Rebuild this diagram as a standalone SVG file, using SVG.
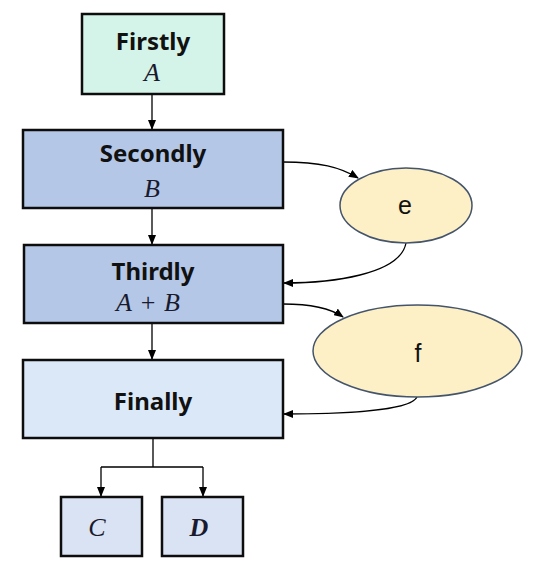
<svg xmlns="http://www.w3.org/2000/svg" width="540" height="573" viewBox="0 0 540 573">
<defs>
<marker id="ah" markerWidth="10" markerHeight="8" refX="9" refY="4" orient="auto" markerUnits="userSpaceOnUse">
<path d="M0,0 L10,4 L0,8 Z" fill="#000"/>
</marker>
<style>
.box{stroke:#0d0d0d;stroke-width:2.5}
.ell{fill:#fdefc6;stroke:#44546a;stroke-width:1.5}
.lbl{font-family:"Noto Sans","Open Sans",sans-serif;font-weight:bold;font-size:24px;fill:#111;text-anchor:middle}
.math{font-family:"Liberation Serif","DejaVu Serif",serif;font-style:italic;font-size:26px;fill:#1a1a2e;text-anchor:middle}
.up{font-style:normal}
.el{font-family:"Liberation Sans",Arial,sans-serif;font-size:25px;fill:#111;text-anchor:middle}
.con{fill:none;stroke:#000;stroke-width:1.3}
</style>
</defs>
<rect width="540" height="573" fill="#fff"/>
<g id="connectors">
<path class="con" d="M152,94 V129" marker-end="url(#ah)"/>
<path class="con" d="M152,208 V244" marker-end="url(#ah)"/>
<path class="con" d="M152,323 V359" marker-end="url(#ah)"/>
<path class="con" d="M153,438 V467 M101,467 H203"/>
<path class="con" d="M101,467 V496" marker-end="url(#ah)"/>
<path class="con" d="M203,467 V496" marker-end="url(#ah)"/>
<path class="con" d="M283,162 C320,162 340,167 358,178" marker-end="url(#ah)"/>
<path class="con" d="M406,243 C400,275 330,283 284,283" marker-end="url(#ah)"/>
<path class="con" d="M283,304 C310,304 330,308 343,317" marker-end="url(#ah)"/>
<path class="con" d="M417,397 C410,412 330,414 284,414" marker-end="url(#ah)"/>
</g>
<g id="firstly">
<rect class="box" x="82" y="14" width="142" height="80" fill="#d4f3e9"/>
<text class="lbl" x="153" y="50">Firstly</text>
<text class="math" x="152" y="81">A</text>
</g>
<g id="secondly">
<rect class="box" x="23" y="130" width="260" height="78" fill="#b4c7e7"/>
<text class="lbl" x="153" y="162">Secondly</text>
<text class="math" x="152" y="197">B</text>
</g>
<g id="thirdly">
<rect class="box" x="24" y="245" width="259" height="78" fill="#b4c7e7"/>
<text class="lbl" x="153" y="280">Thirdly</text>
<text class="math" y="311"><tspan x="124">A</tspan><tspan class="up" x="148">+</tspan><tspan x="172">B</tspan></text>
</g>
<g id="finally">
<rect class="box" x="23" y="360" width="260" height="78" fill="#dbe8f8"/>
<text class="lbl" x="153" y="410">Finally</text>
</g>
<g id="c">
<rect class="box" x="61" y="497" width="81" height="59" fill="#dae3f3"/>
<text class="math" x="97" y="536" font-size="27">C</text>
</g>
<g id="d">
<rect class="box" x="162" y="497" width="81" height="59" fill="#dae3f3"/>
<text class="math" x="199" y="536" font-size="27" font-weight="bold">D</text>
</g>
<g id="e">
<ellipse class="ell" cx="406" cy="205.5" rx="66" ry="37.5"/>
<text class="el" x="405" y="214">e</text>
</g>
<g id="f">
<ellipse class="ell" cx="417.5" cy="351" rx="104.5" ry="46"/>
<text class="el" x="418" y="362">f</text>
</g>
</svg>
